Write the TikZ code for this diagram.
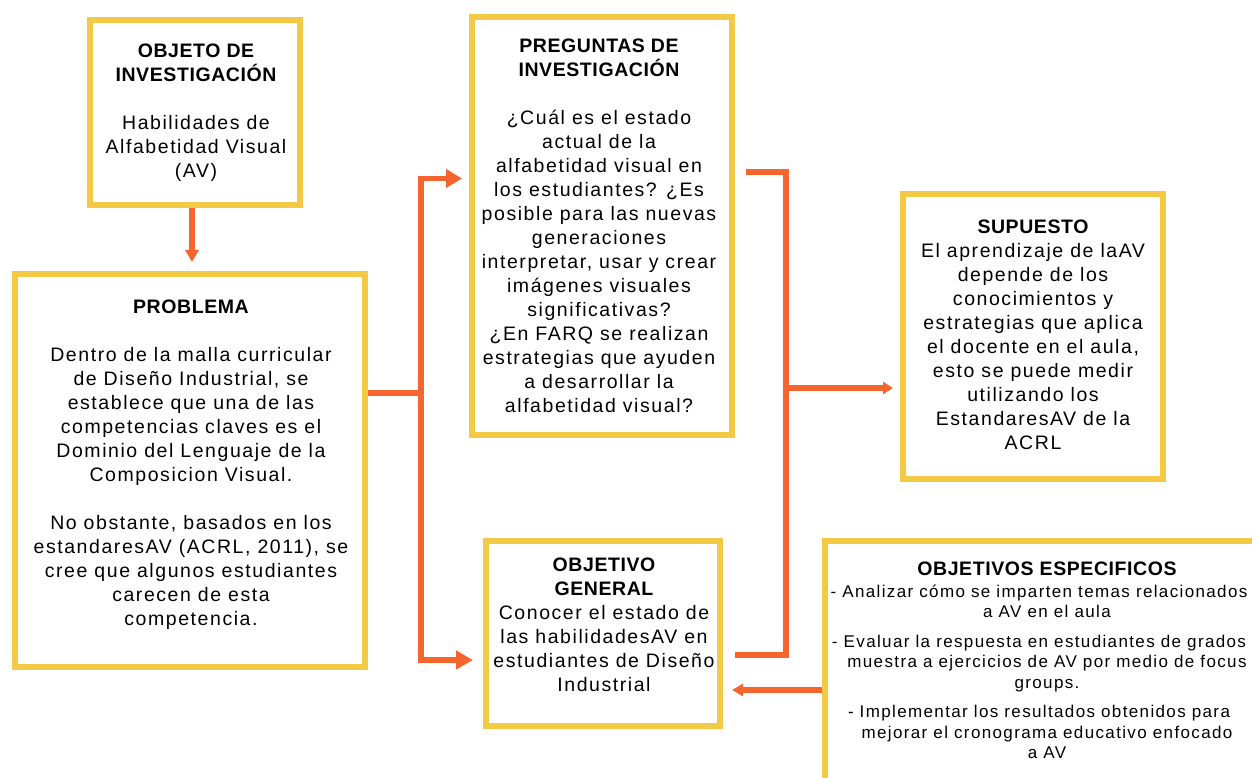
\documentclass[tikz,border=0pt]{standalone}
\usepackage{fontspec}
\setmainfont{Liberation Sans}[LetterSpace=8]
\newfontfamily\hdrfont{Liberation Sans}[LetterSpace=3]
\usetikzlibrary{arrows.meta}
\definecolor{ybox}{RGB}{243,201,69}
\definecolor{oline}{RGB}{245,101,45}
\newcommand\hdr[1]{{\hdrfont\bfseries #1}}
\newcommand\trail{\hspace*{16pt}\null}
\begin{document}
\begin{tikzpicture}[x=1pt,y=-1pt,
  box/.style={draw=ybox,line width=6pt,inner sep=0pt},
  conn/.style={draw=oline,line width=5.7pt},
  txt/.style={align=center,inner sep=0pt,font=\fontsize{19.5}{24}\selectfont},
  smalltxt/.style={align=center,inner sep=0pt,font=\fontsize{17}{20.5}\selectfont}]
\useasboundingbox (0,0) rectangle (1252,778);
\fill[white] (0,0) rectangle (1252,778);
\clip (0,0) rectangle (1252,778);

% boxes
\node[box,minimum width=210pt,minimum height=185pt] (obj) at (195,112.5) {};
\node[box,minimum width=350pt,minimum height=393pt] (prob) at (190,470.5) {};
\node[box,minimum width=260pt,minimum height=418pt] (preg) at (602,226) {};
\node[box,minimum width=260pt,minimum height=285pt] (sup) at (1033,336.5) {};
\node[box,minimum width=234pt,minimum height=185pt] (ogen) at (603,633.5) {};
\node[box,minimum width=475pt,minimum height=279pt] (oesp) at (1062.5,680.5) {};

% texts
\node[txt] (objt) at (196,113) {\hdr{OBJETO DE}\\ \hdr{INVESTIGACIÓN}\\[24pt]
Habilidades de\\ Alfabetidad Visual\\ (AV)};

\node[txt] (probt) at (191,465) {\hdr{PROBLEMA}\\[24pt]
Dentro de la malla curricular\\ de Diseño Industrial, se\\ establece que una de las\\
competencias claves es el\\ Dominio del Lenguaje de la\\ Composicion Visual.\\[24pt]
No obstante, basados en los\\ estandaresAV (ACRL, 2011), se\\ cree que algunos estudiantes\\
carecen de esta\\ competencia.};

\node[txt] (pregt) at (599,226) {\hdr{PREGUNTAS DE}\\ \hdr{INVESTIGACIÓN}\\[24pt]
¿Cuál es el estado\\ actual de la\\ alfabetidad visual en\\ los estudiantes? ¿Es\\
posible para las nuevas\\ generaciones\\ interpretar, usar y crear\\ imágenes visuales\\
significativas?\\ ¿En FARQ se realizan\\ estrategias que ayuden\\ a desarrollar la\\
alfabetidad visual?};

\node[txt] (supt) at (1033,335) {\hdr{SUPUESTO}\\
El aprendizaje de laAV\\ depende de los\\ conocimientos y\\ estrategias que aplica\\
el docente en el aula,\\ esto se puede medir\\ utilizando los\\ EstandaresAV de la\\ ACRL};

\node[txt] (ogent) at (604,625) {\hdr{OBJETIVO}\\ \hdr{GENERAL}\\
Conocer el estado de\\ las habilidadesAV en\\ estudiantes de Diseño\\ Industrial};

\node[smalltxt] (oespt) at (1047,660.5) {{\fontsize{19.5}{20.5}\selectfont\hdr{OBJETIVOS ESPECIFICOS}}\\[1.5pt]
- Analizar cómo se imparten temas relacionados\trail\\ a AV en el aula\\[9pt]
- Evaluar la respuesta en estudiantes de grados\trail\\ muestra a ejercicios de AV por medio de focus\\ groups.\\[9pt]
- Implementar los resultados obtenidos para\trail\\ mejorar el cronograma educativo enfocado\\ a AV};

% connectors
\coordinate (a1) at ([xshift=-3pt]obj.south);
\coordinate (j1) at (421,393);
\coordinate (j1t) at (421,178.5);
\coordinate (j1b) at (421,660);
\coordinate (j2t) at (786,172);
\coordinate (j2) at (786,388);
\coordinate (j2b) at (786,655);
\coordinate (ea) at (826,690);

\draw[conn,-{Triangle[length=12pt,width=13pt]},shorten >=9pt] (a1) -- (a1 |- prob.north);
\draw[conn] (prob.east |- j1) -- (j1);
\draw[conn,-{Triangle[length=16pt,width=18pt]},shorten >=7pt] (j1) -- (j1t) -- (preg.west |- j1t);
\draw[conn,-{Triangle[length=17pt,width=18pt]},shorten >=10pt] (j1) -- (j1b) -- (ogen.west |- j1b);
\draw[conn,shorten <=11pt,shorten >=12pt] (preg.east |- j2t) -- (j2t) -- (j2b) -- (ogen.east |- j2b);
\draw[conn,-{Triangle[length=10pt,width=12pt]},shorten >=7pt] (j2) -- (sup.west |- j2);
\draw[conn,-{Triangle[length=11pt,width=12pt]},shorten >=9pt] (oesp.west |- ea) -- (ogen.east |- ea);
\end{tikzpicture}
\end{document}
